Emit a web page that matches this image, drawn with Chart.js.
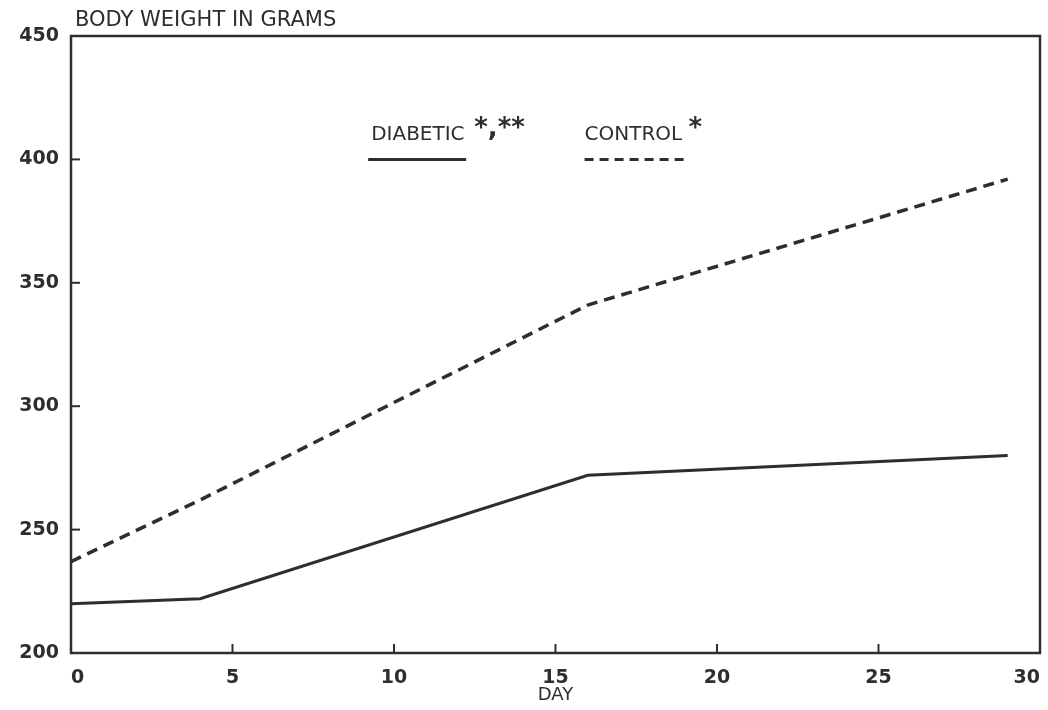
<!DOCTYPE html>
<html>
<head>
<meta charset="utf-8">
<script src="https://cdn.jsdelivr.net/npm/chart.js@4"></script>
<style>
  body { margin: 0; background: #fff; }
  #wrap { width: 1048px; height: 710px; }
</style>
</head>
<body>
<div id="wrap"><canvas id="weightChart"></canvas></div>
<script>
// values
const days = [0, 4, 16, 29];
const diabetic = [220, 222, 272, 280];
const control = [237, 262, 341, 392];
const xTicks = [0, 5, 10, 15, 20, 25, 30];
const yTicks = [200, 250, 300, 350, 400, 450];

const ink = "#2e2e2e";
const font = "'DejaVu Sans', sans-serif";

const toPoints = (xs, ys) => xs.map((x, i) => ({ x: x, y: ys[i] }));

// frame, inward ticks, title and the hand-lettered legend
const decorations = {
  id: "decorations",
  afterDraw(chart) {
    const ctx = chart.ctx;
    const a = chart.chartArea;
    const xs = chart.scales.x;
    const ys = chart.scales.y;
    ctx.save();
    ctx.strokeStyle = ink;
    ctx.lineWidth = 2.5;
    ctx.strokeRect(a.left, a.top, a.right - a.left, a.bottom - a.top);

    ctx.lineWidth = 2;
    xTicks.slice(1, -1).forEach(v => {
      const px = xs.getPixelForValue(v);
      ctx.beginPath();
      ctx.moveTo(px, a.bottom);
      ctx.lineTo(px, a.bottom - 9);
      ctx.stroke();
    });
    yTicks.slice(1, -1).forEach(v => {
      const py = ys.getPixelForValue(v);
      ctx.beginPath();
      ctx.moveTo(a.left, py);
      ctx.lineTo(a.left + 9, py);
      ctx.stroke();
    });

    ctx.fillStyle = ink;
    ctx.textBaseline = "alphabetic";
    ctx.textAlign = "left";
    ctx.font = "21px " + font;
    ctx.fillText("BODY WEIGHT IN GRAMS", a.left + 4, 26);

    // legend
    const lx1 = xs.getPixelForValue(9.2);
    const lx2 = xs.getPixelForValue(15.9);
    const textY = ys.getPixelForValue(408);
    const lineY = ys.getPixelForValue(400);
    ctx.font = "20px " + font;
    ctx.fillText("DIABETIC", lx1 + 3, textY);
    ctx.fillText("CONTROL", lx2, textY);
    ctx.font = "bold 26px " + font;
    ctx.fillText("*,**", lx1 + 106, textY - 4);
    ctx.fillText("*", lx2 + 104, textY - 4);

    ctx.lineWidth = 3;
    ctx.beginPath();
    ctx.moveTo(lx1, lineY);
    ctx.lineTo(lx1 + 98, lineY);
    ctx.stroke();
    ctx.setLineDash([9, 6]);
    ctx.beginPath();
    ctx.moveTo(lx2, lineY);
    ctx.lineTo(lx2 + 100, lineY);
    ctx.stroke();
    ctx.restore();
  }
};

new Chart(document.getElementById("weightChart"), {
  type: "line",
  data: {
    datasets: [
      {
        label: "DIABETIC",
        data: toPoints(days, diabetic),
        borderColor: ink,
        borderWidth: 3,
        pointRadius: 0,
        tension: 0
      },
      {
        label: "CONTROL",
        data: toPoints(days, control),
        borderColor: ink,
        borderWidth: 3.5,
        borderDash: [11, 7],
        pointRadius: 0,
        tension: 0
      }
    ]
  },
  options: {
    responsive: true,
    maintainAspectRatio: false,
    animation: false,
    layout: { padding: { top: 36, right: 8, left: 0, bottom: 0 } },
    plugins: {
      legend: { display: false },
      tooltip: { enabled: false }
    },
    scales: {
      x: {
        type: "linear",
        min: 0,
        max: 30,
        afterBuildTicks: s => { s.ticks = xTicks.map(v => ({ value: v })); },
        afterFit: s => { s.height = 57; s.paddingLeft = 0; s.paddingRight = 0; },
        grid: { display: false },
        border: { display: false },
        ticks: {
          color: ink,
          padding: 6,
          align: "inner",
          font: { family: "DejaVu Sans", size: 19, weight: "bold" }
        },
        title: {
          display: true,
          text: "DAY",
          color: ink,
          padding: { top: 0 },
          font: { family: "DejaVu Sans", size: 18 }
        }
      },
      y: {
        min: 200,
        max: 450,
        afterBuildTicks: s => { s.ticks = yTicks.map(v => ({ value: v })); },
        afterFit: s => { s.width = 71; s.paddingTop = 0; s.paddingBottom = 0; },
        grid: { display: false },
        border: { display: false },
        ticks: {
          color: ink,
          padding: 4,
          font: { family: "DejaVu Sans", size: 19, weight: "bold" }
        }
      }
    }
  },
  plugins: [decorations]
});
</script>
</body>
</html>
